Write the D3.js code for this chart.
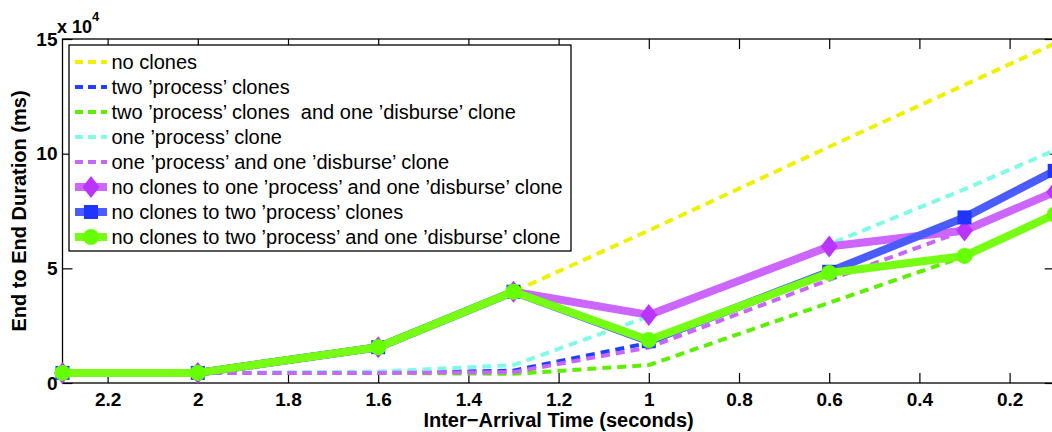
<!DOCTYPE html>
<html>
<head>
<meta charset="utf-8">
<script src="https://cdn.jsdelivr.net/npm/d3@7"></script>
<style>
  html, body { margin: 0; padding: 0; background: #fff; }
  svg { display: block; }
  text { font-family: "Liberation Sans", Arial, Helvetica, sans-serif; }
</style>
</head>
<body>
<svg id="chart" width="1052" height="432"></svg>
<script>
// ---------------- data ----------------
const interArrival = [2.3, 2.0, 1.6, 1.3, 1.0, 0.6, 0.3, 0.1];

const noClones              = [4400, 4400, 15600, 39800, 66500, 103000, 130000, 148000];
const twoProcess            = [4400, 4400, 4400, 5400, 17500, 48500, 72200, 92500];
const twoProcessOneDisburse = [4400, 4400, 4400, 4000, 7800, 35000, 55200, 73500];
const oneProcess            = [4400, 4400, 5000, 7800, 29000, 60500, 84500, 101500];
const oneProcessOneDisburse = [4400, 4400, 4400, 4700, 15500, 45000, 66500, 83300];
const noToOneProcOneDisb    = [4400, 4400, 15600, 39800, 29700, 59500, 66500, 83300];
const noToTwoProcess        = [4400, 4400, 15600, 39800, 18200, 48500, 72200, 92500];
const noToTwoProcOneDisb    = [4400, 4400, 15600, 39800, 18700, 48000, 55400, 73500];

const seriesNames = [
  "no clones",
  "two \u2019process\u2019 clones",
  "two \u2019process\u2019 clones  and one \u2019disburse\u2019 clone",
  "one \u2019process\u2019 clone",
  "one \u2019process\u2019 and one \u2019disburse\u2019 clone",
  "no clones to one \u2019process\u2019 and one \u2019disburse\u2019 clone",
  "no clones to two \u2019process\u2019 clones",
  "no clones to two \u2019process\u2019 and one \u2019disburse\u2019 clone"
];

const xTickValues = [2.2, 2.0, 1.8, 1.6, 1.4, 1.2, 1.0, 0.8, 0.6, 0.4, 0.2];
const xTickLabels = ["2.2", "2", "1.8", "1.6", "1.4", "1.2", "1", "0.8", "0.6", "0.4", "0.2"];
const yTickValues = [0, 50000, 100000, 150000];
const yTickLabels = ["0", "5", "10", "15"];

const xDomain = [2.3, 0.1];
const yDomain = [0, 150000];

// ---------------- styles ----------------
const series = [
  { values: noClones,              name: seriesNames[0], color: "#eef200", dashed: true },
  { values: twoProcess,            name: seriesNames[1], color: "#2040ff", dashed: true },
  { values: twoProcessOneDisburse, name: seriesNames[2], color: "#5cef00", dashed: true },
  { values: oneProcess,            name: seriesNames[3], color: "#7ffbe6", dashed: true },
  { values: oneProcessOneDisburse, name: seriesNames[4], color: "#c766f8", dashed: true },
  { values: noToOneProcOneDisb,    name: seriesNames[5], color: "#cc66ff", marker: "diamond", markerColor: "#bb33ff" },
  { values: noToTwoProcess,        name: seriesNames[6], color: "#4b5cff", marker: "square",  markerColor: "#1f35ff" },
  { values: noToTwoProcOneDisb,    name: seriesNames[7], color: "#77fc14", marker: "circle",  markerColor: "#66ff00" }
];

// ---------------- layout ----------------
const svg = d3.select("#chart");
const plot = { left: 62.5, right: 1054.7, top: 39, bottom: 383 };

const x = d3.scaleLinear().domain(xDomain).range([plot.left, plot.right]);
const y = d3.scaleLinear().domain(yDomain).range([plot.bottom, plot.top]);

// axes
const tickFont = "bold 19px 'Liberation Sans', Arial, sans-serif";

const gx = svg.append("g").attr("transform", `translate(0,${plot.bottom})`)
  .call(d3.axisBottom(x).tickValues(xTickValues)
    .tickFormat((d, i) => xTickLabels[i]).tickSizeInner(-10).tickSizeOuter(0).tickPadding(10));
const gxTop = svg.append("g").attr("transform", `translate(0,${plot.top})`)
  .call(d3.axisTop(x).tickValues(xTickValues).tickFormat("").tickSizeInner(-10).tickSizeOuter(0));
const gy = svg.append("g").attr("transform", `translate(${plot.left},0)`)
  .call(d3.axisLeft(y).tickValues(yTickValues)
    .tickFormat((d, i) => yTickLabels[i]).tickSizeInner(-10).tickSizeOuter(0).tickPadding(5));
const gyRight = svg.append("g").attr("transform", `translate(${plot.right},0)`)
  .call(d3.axisRight(y).tickValues(yTickValues).tickFormat("").tickSizeInner(-10).tickSizeOuter(0));

[gx, gxTop, gy, gyRight].forEach(g => {
  g.select(".domain").remove();
  g.selectAll(".tick line").attr("stroke", "#000").attr("stroke-width", 1.2);
  g.selectAll(".tick text").attr("fill", "#000").style("font", tickFont);
});

// frame
svg.append("rect")
  .attr("x", plot.left).attr("y", plot.top)
  .attr("width", plot.right - plot.left).attr("height", plot.bottom - plot.top)
  .attr("fill", "none").attr("stroke", "#000").attr("stroke-width", 1.3);

// exponent label
const expo = svg.append("text").attr("x", 57).attr("y", 33)
  .style("font", "bold 18px 'Liberation Sans', Arial, sans-serif").attr("fill", "#000");
expo.append("tspan").text("x 10");
expo.append("tspan").attr("dy", -12).style("font-size", "13px").text("4");

// axis titles
svg.append("text")
  .attr("x", (plot.left + plot.right) / 2).attr("y", 427)
  .attr("text-anchor", "middle")
  .style("font", "bold 20px 'Liberation Sans', Arial, sans-serif")
  .text("Inter\u2212Arrival Time (seconds)");

svg.append("text")
  .attr("transform", `translate(26,${(plot.top + plot.bottom) / 2}) rotate(-90)`)
  .attr("text-anchor", "middle")
  .style("font", "bold 20px 'Liberation Sans', Arial, sans-serif")
  .text("End to End Duration (ms)");

// ---------------- lines ----------------
const line = d3.line().x((d, i) => x(interArrival[i])).y(d => y(d));

function drawMarker(g, type, cx, cy, color) {
  if (type === "diamond") {
    g.append("path")
      .attr("d", `M${cx},${cy - 11} L${cx + 8.5},${cy} L${cx},${cy + 11} L${cx - 8.5},${cy} Z`)
      .attr("fill", color);
  } else if (type === "square") {
    g.append("rect").attr("x", cx - 7).attr("y", cy - 7).attr("width", 14).attr("height", 14)
      .attr("fill", color);
  } else if (type === "circle") {
    g.append("circle").attr("cx", cx).attr("cy", cy).attr("r", 8).attr("fill", color);
  }
}

const linesG = svg.append("g");
series.forEach(s => {
  const g = linesG.append("g");
  g.append("path")
    .attr("d", line(s.values))
    .attr("fill", "none")
    .attr("stroke", s.color)
    .attr("stroke-width", s.dashed ? 4 : 8)
    .attr("stroke-dasharray", s.dashed ? "9,6" : null)
    .attr("stroke-linejoin", "round");
  if (s.marker) {
    s.values.forEach((v, i) => drawMarker(g, s.marker, x(interArrival[i]), y(v), s.markerColor));
  }
});

// ---------------- legend ----------------
const legend = svg.append("g");
legend.append("rect")
  .attr("x", 69).attr("y", 45).attr("width", 502).attr("height", 206)
  .attr("fill", "#fff").attr("stroke", "#000").attr("stroke-width", 1.3);

series.forEach((s, i) => {
  const ry = 62 + i * 25;
  legend.append("line")
    .attr("x1", 75).attr("x2", 107).attr("y1", ry).attr("y2", ry)
    .attr("stroke", s.color)
    .attr("stroke-width", s.dashed ? 4 : 8)
    .attr("stroke-dasharray", s.dashed ? "8,5" : null);
  if (s.marker) drawMarker(legend, s.marker, 91, ry, s.markerColor);
  legend.append("text")
    .attr("x", 111.5).attr("y", ry).attr("dy", "0.35em")
    .style("font", "20px 'Liberation Sans', Arial, sans-serif")
    .style("white-space", "pre")
    .attr("fill", "#000")
    .text(s.name);
});
</script>
</body>
</html>
